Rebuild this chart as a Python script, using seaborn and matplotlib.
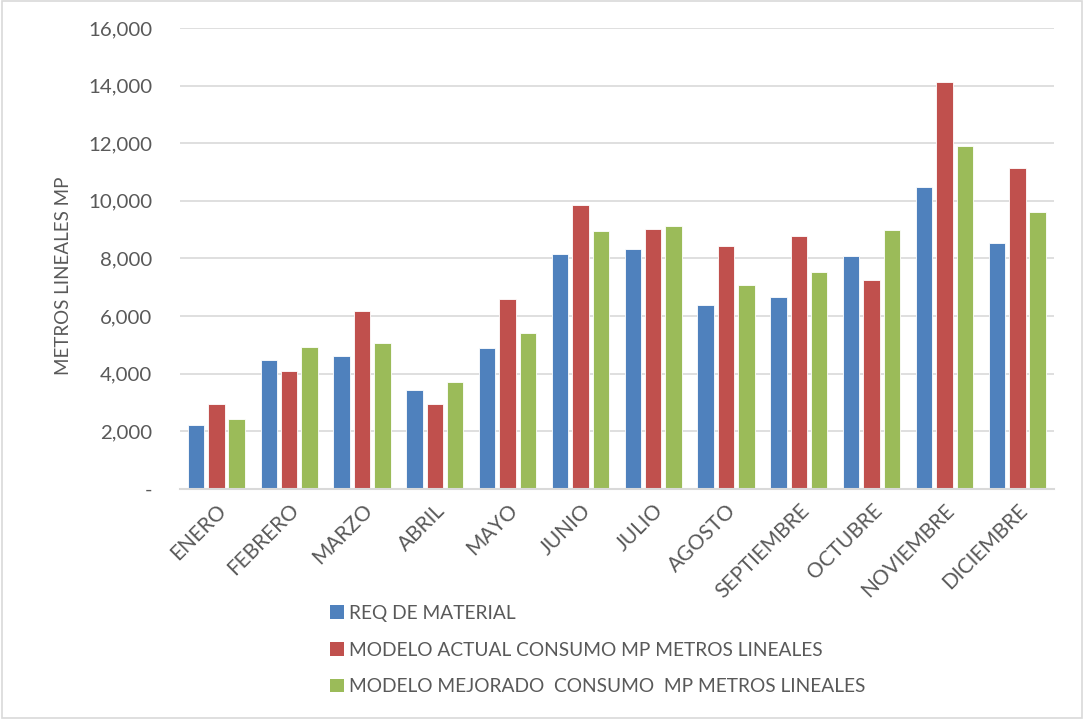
import matplotlib
matplotlib.use("Agg")
import matplotlib.pyplot as plt
import matplotlib.ticker as mticker
from matplotlib.patches import Patch, Rectangle
import seaborn as sns
import pandas as pd

meses = ["ENERO", "FEBRERO", "MARZO", "ABRIL", "MAYO", "JUNIO", "JULIO",
         "AGOSTO", "SEPTIEMBRE", "OCTUBRE", "NOVIEMBRE", "DICIEMBRE"]
series = ["REQ DE MATERIAL",
          "MODELO ACTUAL CONSUMO MP METROS LINEALES",
          "MODELO MEJORADO  CONSUMO  MP METROS LINEALES"]
req_material = [2210, 4490, 4610, 3450, 4880, 8160, 8340, 6370, 6650, 8090, 10490, 8530]
modelo_actual = [2960, 4110, 6190, 2940, 6600, 9870, 9040, 8430, 8790, 7250, 14130, 11150]
modelo_mejorado = [2420, 4910, 5050, 3700, 5430, 8970, 9130, 7090, 7530, 8990, 11910, 9610]
colores = ["#4F81BD", "#C0504D", "#9BBB59"]
yticks = list(range(0, 16001, 2000))

df = pd.DataFrame({"mes": meses,
                   series[0]: req_material,
                   series[1]: modelo_actual,
                   series[2]: modelo_mejorado})
largo = df.melt(id_vars="mes", var_name="serie", value_name="valor")

sns.set_theme(style="white")
plt.rcParams["font.family"] = ["Lato", "DejaVu Sans"]
texto = "#595959"

fig = plt.figure(figsize=(10.84, 7.19), dpi=100)
ax = fig.add_axes([0.166, 0.320, 0.806, 0.641])

sns.barplot(data=largo, x="mes", y="valor", hue="serie", order=meses,
            hue_order=series, palette=colores, width=0.84, gap=0.19,
            edgecolor="#ffffff", linewidth=0.6, saturation=1,
            errorbar=None, legend=False, ax=ax)

ax.set_ylim(0, 16000)
ax.set_xlim(-0.5, len(meses) - 0.5)
ax.set_yticks(yticks)
ax.yaxis.set_major_formatter(mticker.FuncFormatter(
    lambda v, p: "-" if v == 0 else f"{int(v):,}"))
ax.grid(axis="y", color="#d9d9d9", linewidth=1.2)
ax.set_axisbelow(True)
for s in ["top", "right", "left"]:
    ax.spines[s].set_visible(False)
ax.spines["bottom"].set_color("#d9d9d9")
ax.spines["bottom"].set_linewidth(1.5)

ax.tick_params(axis="y", labelsize=14.7, colors=texto, length=0, pad=20)
ax.tick_params(axis="x", labelsize=15, colors=texto, length=0, pad=8)
plt.setp(ax.get_xticklabels(), rotation=45, ha="right", rotation_mode="anchor")
ax.set_xlabel("")
ax.set_ylabel("METROS LINEALES MP", fontsize=13.5, color=texto)
ax.yaxis.set_label_coords(-0.124, 0.462)

handles = [Patch(facecolor=c, edgecolor="none") for c in colores]
fig.legend(handles, series, loc="upper left", bbox_to_anchor=(0.296, 0.172),
           frameon=False, fontsize=13.8, labelcolor=texto, handlelength=0.7,
           handleheight=0.7, handletextpad=0.28, labelspacing=1.03,
           borderpad=0)

fig.patches.append(Rectangle((0.002, 0.002), 0.996, 0.996, transform=fig.transFigure,
                             fill=False, edgecolor="#d9d9d9", linewidth=1.2))

fig.savefig("out.png", dpi=100)
